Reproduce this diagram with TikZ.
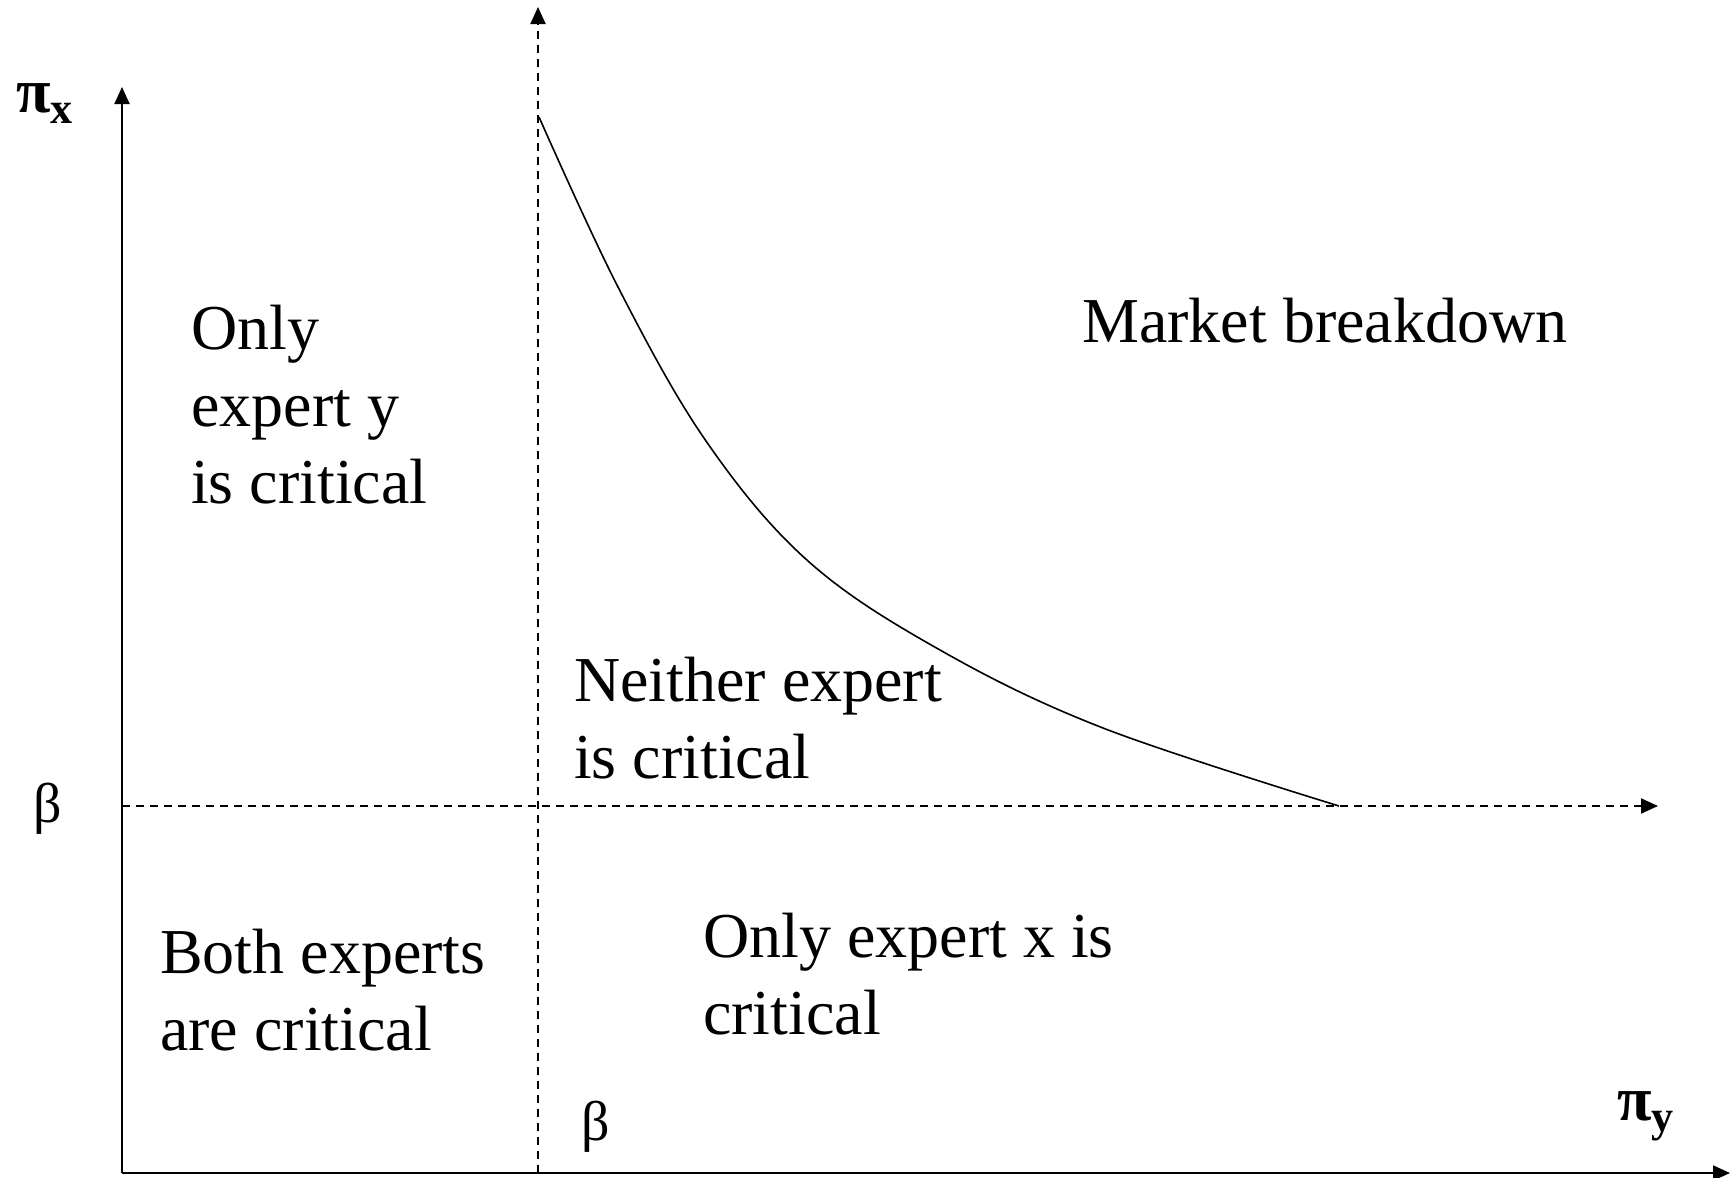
\documentclass[tikz,border=0pt]{standalone}
\usepackage{fontspec}
\setmainfont{Liberation Serif}
\usetikzlibrary{arrows.meta}
\begin{document}
\begin{tikzpicture}[x=1pt,y=-1pt,
  axis/.style={line width=2pt,-{Triangle[length=17pt,width=15pt]}},
  guide/.style={line width=2pt,dash pattern=on 8pt off 6pt,-{Triangle[length=17pt,width=15pt]}},
  lbl/.style={anchor=base west,inner sep=0pt,font=\fontsize{64}{77}\selectfont,align=left},
  sym/.style={anchor=base west,inner sep=0pt,font=\fontsize{56}{64}\selectfont},
  pisym/.style={anchor=base west,inner sep=0pt,font=\fontsize{63}{70}\selectfont\bfseries}]
\useasboundingbox (0,0) rectangle (1730,1178);
\coordinate (O) at (122,1173);
\coordinate (ytop) at (122,87);
\coordinate (xend) at (1730,1173);
\coordinate (vb) at (538,1173);
\coordinate (vt) at (538,7);
\coordinate (hb) at (122,806);
\coordinate (he) at (1658,806);
\coordinate (cs) at (539,117);
\coordinate (ce) at (1339,806);
\draw[axis] (O) -- (ytop);
\draw[axis] (O) -- (xend);
\draw[guide] (vb) -- (vt);
\draw[guide] (hb) -- (he);
\draw[line width=1.6pt] plot[smooth,tension=0.6] coordinates {(cs) (618,287) (706,441) (808,561) (940,650) (1103,728) (ce)};
\node[lbl] (ony) at (191,503) {Only\\expert y\\is critical};
\node[lbl] (mb) at (1082,342) {Market breakdown};
\node[lbl] (nei) at (574,778) {Neither expert\\is critical};
\node[lbl] (both) at (160,1050) {Both experts\\are critical};
\node[lbl] (onx) at (703,1034) {Only expert x is\\critical};
\node[pisym] (pix) at (16,112) {π\textsubscript{x}};
\node[sym] (b1) at (33,822) {β};
\node[sym] (b2) at (581,1140) {β};
\node[pisym] (piy) at (1617,1120) {π\textsubscript{y}};
\end{tikzpicture}
\end{document}
